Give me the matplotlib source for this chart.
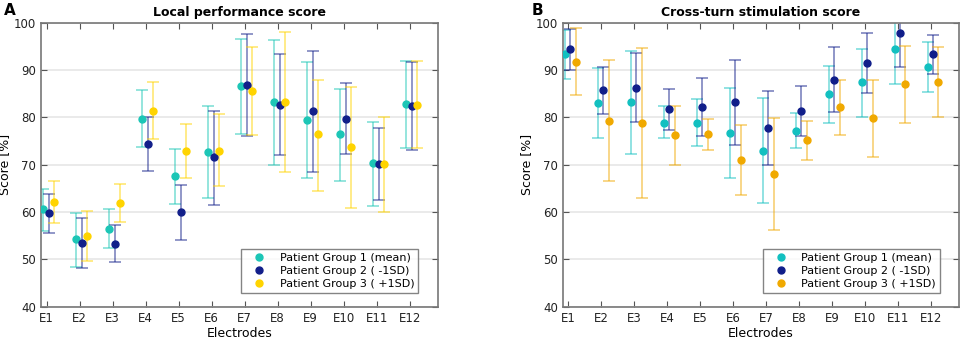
#!/usr/bin/env python3
"""Local performance and cross-turn stimulation scores per electrode."""

import matplotlib
matplotlib.use('Agg')
import matplotlib.pyplot as plt
import numpy as np

electrodes = ['E1', 'E2', 'E3', 'E4', 'E5', 'E6', 'E7', 'E8', 'E9', 'E10', 'E11', 'E12']
groups = ['Patient Group 1 (mean)', 'Patient Group 2 ( -1SD)', 'Patient Group 3 ( +1SD)']

# Panel A - local performance score: mean, upper and lower error-bar ends
a_g1 = [60.6, 54.2, 56.5, 79.7, 67.6, 72.7, 86.7, 83.2, 79.4, 76.4, 70.3, 82.8]
a_g1_hi = [64.9, 59.9, 60.6, 85.7, 73.3, 82.5, 96.6, 96.3, 91.7, 86.1, 79.1, 92.0]
a_g1_lo = [56.0, 48.4, 52.5, 73.8, 61.8, 62.9, 76.4, 69.9, 67.2, 66.5, 61.3, 73.5]
a_g2 = [59.7, 53.5, 53.3, 74.4, 60.0, 71.6, 86.8, 82.6, 81.4, 79.7, 70.2, 82.4]
a_g2_hi = [63.8, 58.8, 57.3, 80.1, 65.8, 81.4, 97.7, 93.4, 94.0, 87.2, 77.7, 91.7]
a_g2_lo = [55.6, 48.2, 49.4, 68.6, 54.1, 61.5, 76.0, 72.0, 68.5, 72.3, 62.6, 73.2]
a_g3 = [62.2, 54.9, 62.0, 81.3, 72.9, 73.0, 85.6, 83.2, 76.4, 73.7, 70.2, 82.7]
a_g3_hi = [66.6, 60.3, 65.9, 87.5, 78.5, 80.8, 94.9, 98.0, 88.0, 86.5, 80.0, 91.9]
a_g3_lo = [57.7, 49.7, 58.0, 75.4, 67.1, 65.4, 76.3, 68.4, 64.5, 60.9, 60.1, 73.5]

# Panel B - cross-turn stimulation score
b_g1 = [93.3, 83.0, 83.2, 78.9, 78.9, 76.7, 73.0, 77.1, 85.0, 87.4, 94.4, 90.6]
b_g1_hi = [98.5, 90.4, 94.0, 82.3, 83.9, 86.2, 84.0, 81.0, 90.9, 94.5, 102.0, 96.0]
b_g1_lo = [88.1, 75.6, 72.3, 75.6, 74.0, 67.1, 61.9, 73.5, 78.9, 80.1, 87.0, 85.4]
b_g2 = [94.4, 85.7, 86.3, 81.8, 82.1, 83.2, 77.8, 81.4, 88.0, 91.5, 97.8, 93.3]
b_g2_hi = [98.7, 90.6, 93.5, 86.1, 88.4, 92.2, 85.6, 86.6, 94.8, 97.9, 104.0, 97.3]
b_g2_lo = [90.0, 80.7, 79.1, 77.3, 76.0, 74.2, 70.0, 76.1, 81.1, 85.2, 90.7, 89.2]
b_g3 = [91.8, 79.3, 78.9, 76.2, 76.4, 70.9, 68.1, 75.3, 82.2, 79.9, 87.0, 87.5]
b_g3_hi = [98.9, 92.1, 94.7, 82.4, 79.6, 78.4, 79.9, 79.3, 88.0, 88.0, 95.1, 94.8]
b_g3_lo = [84.7, 66.5, 63.0, 69.9, 73.2, 63.5, 56.2, 71.1, 76.3, 71.7, 78.8, 80.0]

offsets = [-0.1, 0.06, 0.22]
colors_a = ['#1cc6b6', '#121f8a', '#ffd400']
colors_b = ['#12c0c0', '#101e8a', '#f0a900']


def draw_panel(ax, series, colors, title):
    x = np.arange(1, len(electrodes) + 1)
    for (mean, hi, lo), off, c, lab in zip(series, offsets, colors, groups):
        mean = np.array(mean)
        err = [mean - np.array(lo), np.array(hi) - mean]
        ax.errorbar(x + off, mean, yerr=err, fmt='none', ecolor=c, alpha=0.5,
                    elinewidth=1.3, capsize=4, capthick=1.3, zorder=2)
        ax.plot(x + off, mean, 'o', color=c, markersize=5, label=lab, zorder=3)

    ax.set_xlim(0.83, 12.85)
    ax.set_ylim(40, 100)
    ax.set_xticks(x)
    ax.set_xticklabels(electrodes)
    ax.set_yticks(np.arange(40, 101, 10))
    ax.yaxis.grid(True, color='#e6e6e6', linewidth=1.2)
    ax.set_axisbelow(True)
    ax.tick_params(direction='in', top=True, right=True, length=4,
                   color='#555555', labelsize=8.5, labelcolor='#222222')
    for s in ax.spines.values():
        s.set_color('#777777')
        s.set_linewidth(1.2)
    ax.set_xlabel('Electrodes', fontsize=9, labelpad=2)
    ax.set_ylabel('Score [%]', fontsize=9, labelpad=2)
    ax.set_title(title, fontsize=9, fontweight='bold', pad=5)
    leg = ax.legend(loc='lower right', bbox_to_anchor=(0.965, 0.03), fontsize=8,
                    frameon=True, fancybox=False, edgecolor='#666666',
                    handletextpad=0.6, borderpad=0.35, labelspacing=0.25,
                    handlelength=2.5)
    leg.get_frame().set_linewidth(1.0)


fig = plt.figure(figsize=(9.64, 3.43), dpi=100)
ax_a = fig.add_axes([0.0425, 0.1058, 0.4115, 0.828])
ax_b = fig.add_axes([0.5837, 0.1058, 0.4114, 0.828])

draw_panel(ax_a, [(a_g1, a_g1_hi, a_g1_lo), (a_g2, a_g2_hi, a_g2_lo), (a_g3, a_g3_hi, a_g3_lo)],
           colors_a, 'Local performance score')
draw_panel(ax_b, [(b_g1, b_g1_hi, b_g1_lo), (b_g2, b_g2_hi, b_g2_lo), (b_g3, b_g3_hi, b_g3_lo)],
           colors_b, 'Cross-turn stimulation score')

fig.text(0.004, 0.99, 'A', fontsize=11, fontweight='bold', ha='left', va='top')
fig.text(0.551, 0.99, 'B', fontsize=11, fontweight='bold', ha='left', va='top')

fig.savefig('out.png', dpi=100)
